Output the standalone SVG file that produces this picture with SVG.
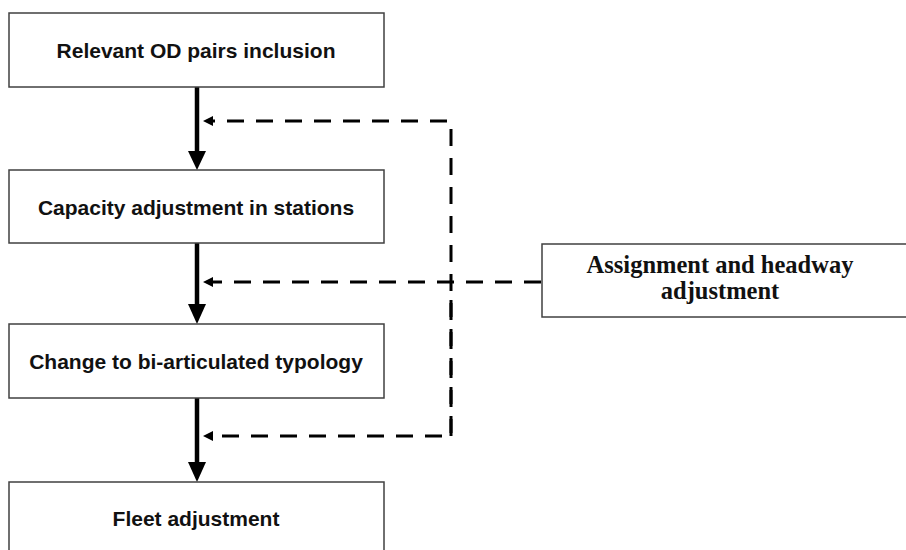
<svg xmlns="http://www.w3.org/2000/svg" width="906" height="550" viewBox="0 0 906 550">
<style>
.box{fill:#fff;stroke:#404040;stroke-width:1.5}
.t{font-family:"Liberation Sans",Arial,sans-serif;font-weight:bold;font-size:21px;fill:#111;text-anchor:middle}
.s{font-family:"Liberation Serif","Times New Roman",serif;font-weight:bold;font-size:24.5px;fill:#111;text-anchor:middle}
.solid{stroke:#000;stroke-width:4.5;fill:none}
.dash{stroke:#000;stroke-width:3;fill:none;stroke-dasharray:17,12}
.head{fill:#000}
</style>
<g id="connectors">
<path class="solid" d="M197,87 L197,152"/>
<path class="head" d="M188,151 L206,151 L197,170 Z"/>
<path class="solid" d="M197,243 L197,305"/>
<path class="head" d="M188,304 L206,304 L197,324 Z"/>
<path class="solid" d="M197,398 L197,463"/>
<path class="head" d="M188,462 L206,462 L197,482 Z"/>
<path class="dash" d="M451,436 L451,121 L212,121"/>
<path class="head" d="M203,121 L213,116 L213,126 Z"/>
<path class="dash" d="M541,282 L212,282"/>
<path class="head" d="M203,282 L213,277 L213,287 Z"/>
<path class="dash" d="M451,300 L451,436 L212,436"/>
<path class="head" d="M203,436 L213,431 L213,441 Z"/>
</g>
<g id="n1"><rect class="box" x="9" y="13" width="375" height="74"/><text class="t" x="196" y="58">Relevant OD pairs inclusion</text></g>
<g id="n2"><rect class="box" x="9" y="170" width="375" height="73"/><text class="t" x="196" y="215">Capacity adjustment in stations</text></g>
<g id="n3"><rect class="box" x="9" y="324" width="375" height="74"/><text class="t" x="196" y="369">Change to bi-articulated typology</text></g>
<g id="n4"><rect class="box" x="9" y="482" width="375" height="80"/><text class="t" x="196" y="526">Fleet adjustment</text></g>
<g id="n5"><rect class="box" x="542" y="244" width="370" height="73"/><text class="s" x="720" y="273">Assignment and headway</text><text class="s" x="720" y="299">adjustment</text></g>
</svg>
